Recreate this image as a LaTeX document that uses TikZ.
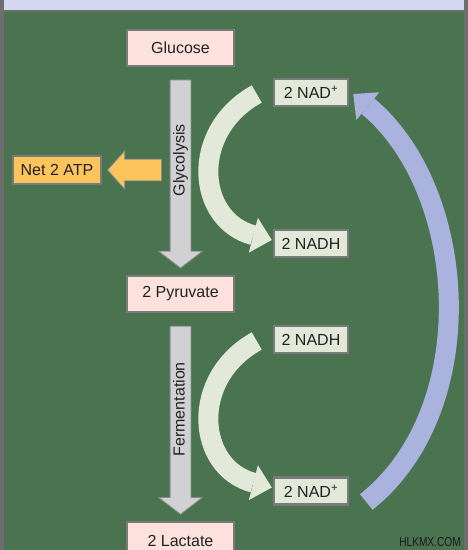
\documentclass[tikz,border=0pt]{standalone}
\usepackage{fontspec}
\setmainfont{Liberation Sans}
\usetikzlibrary{arrows.meta, positioning, calc, shapes.arrows}
\definecolor{framegray}{HTML}{6E6E6E}
\definecolor{bandlav}{HTML}{D4D7EF}
\definecolor{leaf}{HTML}{4A7350}
\definecolor{rosepink}{HTML}{FDE1DC}
\definecolor{boxedge}{HTML}{7A7A7A}
\definecolor{paleleaf}{HTML}{E3E9D8}
\definecolor{periwinkle}{HTML}{A9B3DD}
\definecolor{arrowgray}{HTML}{D1D1D4}
\definecolor{arrowedge}{HTML}{8C8C8C}
\definecolor{atporange}{HTML}{FBC45C}
\definecolor{txtdark}{HTML}{222222}
\newcommand{\labelsize}{\fontsize{16}{19}\selectfont}

\begin{document}
\begin{tikzpicture}[x=1pt, y=1pt,
  stage/.style={draw=boxedge, line width=2pt, fill=rosepink, minimum width=107pt,
    minimum height=36pt, text=txtdark, font=\labelsize, inner sep=0pt},
  carrier/.style={draw=boxedge, line width=2.5pt, fill=paleleaf, minimum width=74pt,
    minimum height=27pt, text=txtdark, font=\labelsize, inner sep=0pt},
  flow/.style={single arrow, draw=arrowedge, fill=arrowgray, line width=0.8pt,
    single arrow head extend=11.5pt, single arrow tip angle=105, minimum width=43pt,
    minimum height=188pt, inner xsep=0pt, inner ysep=2.5pt, text height=11.5pt,
    text depth=3.5pt, font=\labelsize, text=txtdark, rotate=90, shape border rotate=180},
  cyc/.style={line width=20pt, draw=#1,
    -{Triangle[length=19pt, width=36pt, line width=0pt]}},
]

% Background and frame
\useasboundingbox (0,0) rectangle (468,550);
\fill[framegray] (0,0) rectangle (468,550);
\fill[bandlav] (4,540) rectangle (464,550);
\fill[leaf] (4,0) rectangle (464,537.5);

% === Left column: Glucose -> Pyruvate -> Lactate ===

\node[stage] (glucose) at (180.5,502) {Glucose};
\node[stage] (pyruvate) at (180.5,256) {2 Pyruvate};
\node[stage] (lactate) at (180.5,9.5) {2 Lactate};

\node[flow] (glyc) at ($(glucose.south)!0.5!(pyruvate.north)+(0,1)$) {\hspace*{20pt}Glycolysis};
\node[flow] (ferm) at ($(pyruvate.south)!0.5!(lactate.north)+(0,1)$) {\hspace*{14pt}Fermentation};

% ATP yield
\node[draw=boxedge, line width=2pt, fill=atporange, minimum width=88pt, minimum height=28pt,
  inner sep=0pt, text=txtdark, font=\labelsize] (atp) at (57,380) {Net 2 ATP};
\node[single arrow, draw=arrowedge, fill=atporange, line width=0.8pt, inner sep=9pt,
  minimum height=54pt, minimum width=38pt, single arrow tip angle=96,
  shape border rotate=180, right=5pt of atp] (atparr) {};

% === Right column: electron carriers ===

\node[carrier] (nadT) at (311,457.5) {2 NAD\textsuperscript{+}};
\node[carrier] (nadhT) at (311,306.5) {2 NADH};
\node[carrier] (nadhB) at (311,210.5) {2 NADH};
\node[carrier] (nadB) at (311,59) {2 NAD\textsuperscript{+}};

\draw[cyc=paleleaf] ([xshift=-16pt, yshift=-1.5pt]nadT.west)
  .. controls +(-68,-37.5) and +(-75,19.5) .. ([xshift=-1pt, yshift=3.5pt]nadhT.west);
\draw[cyc=paleleaf] ([xshift=-16pt, yshift=-1.5pt]nadhB.west)
  .. controls +(-68,-37.5) and +(-75,19.5) .. ([xshift=-1pt, yshift=3.5pt]nadB.west);

% Regeneration loop
\draw[cyc=periwinkle] ([xshift=17pt, yshift=-11pt]nadB.east)
  .. controls +(117,93) and +(115.5,-96) .. ([xshift=4pt, yshift=-1.5pt]nadT.east);

% Watermark
\node[font=\fontsize{13}{15}\selectfont, xscale=0.78, text=black!90] (mark) at (430,8) {HLKMX.COM};

\end{tikzpicture}
\end{document}
